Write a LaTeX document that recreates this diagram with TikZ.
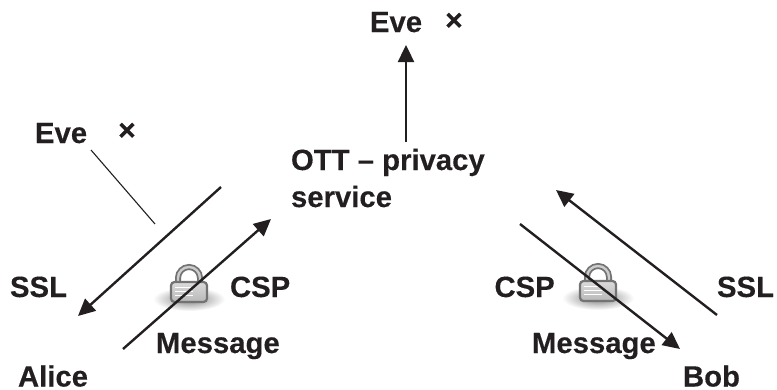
\documentclass[tikz,border=0pt]{standalone}
\usepackage{fontspec}
\setmainfont[BoldFeatures={FakeBold=0.25}]{Liberation Sans}
\usetikzlibrary{arrows.meta}
\definecolor{ink}{HTML}{231F20}
\tikzset{
  lbl/.style={anchor=base west,inner sep=0pt,outer sep=0pt,text=ink,font=\fontsize{29.3}{37}\selectfont\bfseries},
  mark x/.style={anchor=center,inner sep=0pt,text=ink,font=\fontsize{30}{30}\selectfont\bfseries},
  flow/.style={draw=ink,line width=2.4pt,-{Triangle[length=17pt,width=16pt]}},
  thin link/.style={draw=ink,line width=1.1pt},
  lock body/.style={draw=black!55,line width=2.2pt,rounded corners=3.5pt,top color=black!14,bottom color=black!28},
  lock bars/.style={draw=white,line width=.9pt},
  lock shackle/.style={draw=black!55,line width=6pt},
  lock shine/.style={draw=black!20,line width=2.4pt},
}
\newcommand{\padlock}[2]{%
  \begin{scope}[shift={(#1,#2)}]
    \shade[inner color=black!50,outer color=white] (0,7) ellipse [x radius=36,y radius=12];
    \draw[lock shackle] (-11,-9) -- (-11,-14) arc [start angle=180,end angle=0,x radius=11,y radius=-11] -- (11,-9);
    \draw[lock shine] (-11,-9) -- (-11,-14) arc [start angle=180,end angle=0,x radius=11,y radius=-11] -- (11,-9);
    \draw[lock body] (-18,-10) rectangle (18,10);
    \foreach \yy in {-5,-1,3} \draw[lock bars] (-14,\yy) -- (4,\yy);
  \end{scope}}
\begin{document}
\begin{tikzpicture}[x=1pt,y=-1pt]
\useasboundingbox (0,0) rectangle (777,389);
\padlock{189}{292}
\padlock{598}{291}
\node[lbl] (eveL) at (35,143) {Eve};
\node[mark x] (xL) at (127,131.5) {×};
\node[lbl] (eveT) at (370,32) {Eve};
\node[mark x] (xT) at (454,21.5) {×};
\node[lbl] (ott) at (291,170) {OTT – privacy};
\node[lbl] (svc) at (291,207) {service};
\node[lbl] (sslL) at (10,297) {SSL};
\node[lbl] (cspL) at (230,297) {CSP};
\node[lbl] (msgL) at (156,353) {Message};
\node[lbl] (alice) at (18,386.5) {Alice};
\node[lbl] (cspR) at (494.5,297) {CSP};
\node[lbl] (sslR) at (717,297) {SSL};
\node[lbl] (msgR) at (532,353) {Message};
\node[lbl] (bob) at (683,386.5) {Bob};
\coordinate (a1) at (221,187); \coordinate (a2) at (78,316);
\coordinate (b1) at (123,349); \coordinate (b2) at (271,219);
\coordinate (c1) at (91,150);  \coordinate (c2) at (155,224);
\coordinate (d1) at (406,142); \coordinate (d2) at (406,45);
\coordinate (e1) at (717,315); \coordinate (e2) at (556,190);
\coordinate (f1) at (520,224); \coordinate (f2) at (680,349);
\draw[flow] (a1) -- (a2);
\draw[flow] (b1) -- (b2);
\draw[thin link] (c1) -- (c2);
\draw[flow] (d1) -- (d2);
\draw[flow] (e1) -- (e2);
\draw[flow] (f1) -- (f2);
\end{tikzpicture}
\end{document}
